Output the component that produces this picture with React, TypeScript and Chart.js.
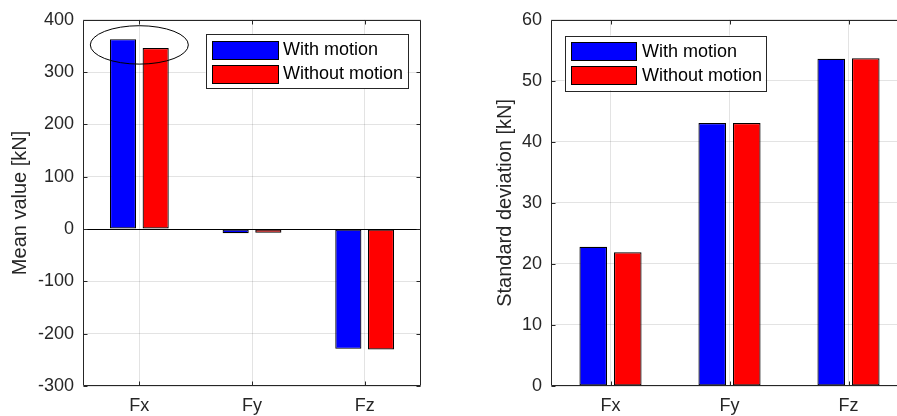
import React, { useEffect, useRef } from 'react';
import { Chart, registerables } from 'chart.js';

Chart.register(...registerables);

// ---------- data ----------
const categories = ['Fx', 'Fy', 'Fz'];
const seriesNames = ['With motion', 'Without motion'];
const seriesColors = ['#0000FF', '#FF0000'];

const meanWithMotion = [363, -8, -229];
const meanWithoutMotion = [346, -7, -230];
const meanAxis = { min: -300, max: 400, step: 100, title: 'Mean value [kN]' };

const stdWithMotion = [22.8, 43.1, 53.6];
const stdWithoutMotion = [21.9, 43.1, 53.7];
const stdAxis = { min: 0, max: 60, step: 10, title: 'Standard deviation [kN]' };

// ellipse annotation around Fx bars (data units: category index, value)
const ellipseCategory = 0;
const ellipseValue = 352;
const ellipseHalfCategory = 0.435;
const ellipseHalfValue = 36.7;

// ---------- styling ----------
const FONT = '"Liberation Sans", Arial, Helvetica, sans-serif';
const TEXT = '#262626';
const AXIS = '#262626';
const GRID = 'rgba(38,38,38,0.13)';

const framePlugin = {
  id: 'frame',
  afterDraw(chart: any) {
    const { ctx, chartArea: a, scales } = chart;
    const L = Math.round(a.left) + 0.5;
    const R = Math.round(a.right) - 0.5;
    const T = Math.round(a.top) + 0.5;
    const B = Math.round(a.bottom) - 0.5;
    ctx.save();
    ctx.strokeStyle = AXIS;
    ctx.lineWidth = 1;
    ctx.beginPath();
    ctx.rect(L, T, R - L, B - T);
    const tl = 4;
    scales.y.ticks.forEach((t: any) => {
      const y = Math.round(scales.y.getPixelForValue(t.value)) + 0.5;
      ctx.moveTo(L, y); ctx.lineTo(L + tl, y);
      ctx.moveTo(R, y); ctx.lineTo(R - tl, y);
    });
    categories.forEach((_c, i) => {
      const x = Math.round(scales.x.getPixelForValue(i)) + 0.5;
      ctx.moveTo(x, B); ctx.lineTo(x, B - tl);
      ctx.moveTo(x, T); ctx.lineTo(x, T + tl);
    });
    ctx.stroke();
    ctx.restore();
  },
};

const ellipsePlugin = {
  id: 'ellipse',
  afterDatasetsDraw(chart: any, _args: any, opts: any) {
    if (!opts || !opts.show) return;
    const { ctx, scales } = chart;
    const cx = scales.x.getPixelForValue(opts.cat);
    const cy = scales.y.getPixelForValue(opts.value);
    const rx = Math.abs(scales.x.getPixelForValue(opts.cat + opts.halfCat) - cx);
    const ry = Math.abs(scales.y.getPixelForValue(opts.value + opts.halfValue) - cy);
    ctx.save();
    ctx.strokeStyle = '#000';
    ctx.lineWidth = 1;
    ctx.beginPath();
    ctx.ellipse(cx, cy, rx, ry, 0, 0, Math.PI * 2);
    ctx.stroke();
    ctx.restore();
  },
};

const boxLegendPlugin = {
  id: 'boxLegend',
  afterDraw(chart: any, _args: any, opts: any) {
    if (!opts || !opts.show) return;
    const { ctx } = chart;
    const { x, y, w, h, swX, swW, swH, rowY, textX } = opts;
    ctx.save();
    ctx.fillStyle = '#fff';
    ctx.fillRect(x, y, w, h);
    ctx.strokeStyle = AXIS;
    ctx.lineWidth = 1;
    ctx.strokeRect(Math.round(x) + 0.5, Math.round(y) + 0.5, Math.round(w), Math.round(h));
    ctx.font = `18px ${FONT}`;
    ctx.textBaseline = 'middle';
    ctx.textAlign = 'left';
    chart.data.datasets.forEach((ds: any, i: number) => {
      const cy = rowY[i];
      const sy = Math.round(cy - swH / 2);
      ctx.fillStyle = ds.backgroundColor;
      ctx.fillRect(Math.round(swX), sy, Math.round(swW), Math.round(swH));
      ctx.strokeStyle = '#000';
      ctx.strokeRect(Math.round(swX) + 0.5, sy + 0.5, Math.round(swW), Math.round(swH));
      ctx.fillStyle = '#000';
      ctx.fillText(ds.label, textX, cy + 1);
    });
    ctx.restore();
  },
};

function makeConfig(
  a: number[],
  b: number[],
  axis: { min: number; max: number; step: number; title: string },
  geom: any
) {
  return {
    type: 'bar' as const,
    data: {
      labels: categories,
      datasets: [a, b].map((d, i) => ({
        label: seriesNames[i],
        data: d,
        backgroundColor: seriesColors[i],
        borderColor: '#000',
        borderWidth: 1.2,
        borderSkipped: false,
        categoryPercentage: 0.58,
        barPercentage: 0.8,
      })),
    },
    options: {
      responsive: false,
      animation: false,
      events: [],
      layout: { padding: { top: geom.top, right: geom.right, left: 0, bottom: 0 } },
      plugins: {
        legend: { display: false },
        tooltip: { enabled: false },
        ellipse: geom.ellipse,
        boxLegend: geom.legend,
      },
      scales: {
        x: {
          offset: true,
          grid: { display: true, offset: false, color: GRID, drawTicks: false },
          border: { display: false },
          ticks: { color: TEXT, font: { size: 18, family: FONT }, padding: geom.xPad, maxRotation: 0 },
          afterFit: (s: any) => { s.height = geom.xHeight; },
        },
        y: {
          min: axis.min,
          max: axis.max,
          grid: {
            color: (c: any) => (c.tick && c.tick.value === 0 && axis.min < 0 ? '#000' : GRID),
            drawTicks: false,
          },
          border: { display: false },
          ticks: { stepSize: axis.step, color: TEXT, font: { size: 18, family: FONT }, padding: 9 },
          title: {
            display: true,
            text: axis.title,
            color: TEXT,
            font: { size: 20, family: FONT },
            padding: { top: geom.titlePad, bottom: 0 },
          },
          afterFit: (s: any) => { s.width = geom.yWidth; },
        },
      },
    },
    plugins: [framePlugin, ellipsePlugin, boxLegendPlugin],
  };
}

function BarPanel({ cfg, left, width }: { cfg: any; left: number; width: number }) {
  const ref = useRef<HTMLCanvasElement>(null);
  useEffect(() => {
    if (!ref.current) return;
    const chart = new Chart(ref.current, cfg);
    return () => chart.destroy();
  }, []);
  return (
    <div style={{ position: 'absolute', left, top: 0, width, height: 416 }}>
      <canvas ref={ref} width={width} height={416} style={{ width, height: 416, display: 'block' }} />
    </div>
  );
}

export default function App() {
  const leftCfg = makeConfig(meanWithMotion, meanWithoutMotion, meanAxis, {
    top: 18,
    right: 19,
    yWidth: 83,
    xHeight: 30,
    xPad: 9,
    titlePad: 8,
    ellipse: {
      show: true,
      cat: ellipseCategory,
      value: ellipseValue,
      halfCat: ellipseHalfCategory,
      halfValue: ellipseHalfValue,
    },
    legend: {
      show: true,
      x: 205.5, y: 34, w: 202, h: 54,
      swX: 212, swW: 66, swH: 18,
      rowY: [49.5, 73.5],
      textX: 283,
    },
  });
  const rightCfg = makeConfig(stdWithMotion, stdWithoutMotion, stdAxis, {
    top: 19,
    right: 22,
    yWidth: 91,
    xHeight: 30,
    xPad: 9,
    titlePad: 33,
    ellipse: { show: false },
    legend: {
      show: true,
      x: 104.5, y: 35.5, w: 201, h: 54.5,
      swX: 111, swW: 65, swH: 18,
      rowY: [51, 75],
      textX: 182,
    },
  });
  return (
    <div
      style={{
        position: 'absolute',
        left: 0,
        top: 0,
        width: 897,
        height: 416,
        overflow: 'hidden',
        background: '#fff',
      }}
    >
      <BarPanel cfg={leftCfg} left={0} width={440} />
      <BarPanel cfg={rightCfg} left={460} width={470} />
    </div>
  );
}
